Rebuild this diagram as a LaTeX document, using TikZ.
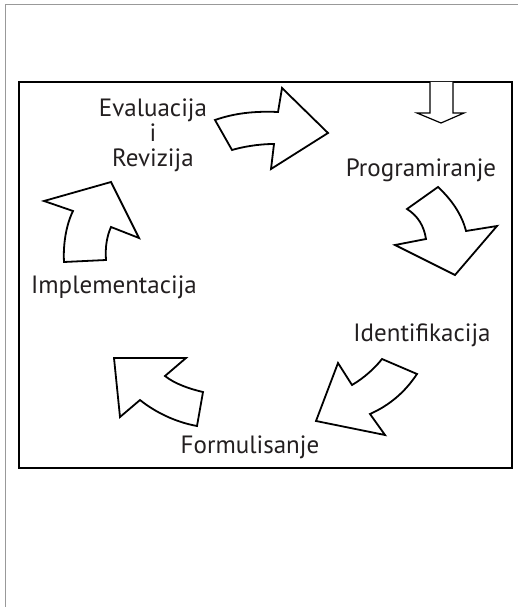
\documentclass[tikz,border=0pt]{standalone}
\usepackage{fontspec}
\setmainfont{PT Sans}
\definecolor{ink}{HTML}{231F20}
\begin{document}
\begin{tikzpicture}[x=1pt,y=-1pt,
  arrowshape/.style={draw=black,line width=1.8pt,line join=miter,fill=white},
  stage/.style={font=\fontsize{25}{30}\selectfont,text=ink,anchor=base,inner sep=0pt}]
\useasboundingbox (0,0) rectangle (518,607);
% outer page frame
\draw[gray!80,line width=0.8pt] (5,620) -- (5,4) -- (530,4);
% inner frame
\draw[line width=1.3pt] (19,82) rectangle (512,468);

% stage labels
\node[stage] (eval) at (153,116.5) {Evaluacija};
\node[stage] (evali) at (153,141) {i};
\node[stage] (revi) at (153,166.5) {Revizija};
\node[stage] (prog) at (421,176) {Programiranje};
\node[stage] (impl) at (114,293) {Implementacija};
\node[stage] (iden) at (422,341) {Identifikacija};
\node[stage] (form) at (250,453) {Formulisanje};

% entry arrow
\draw[line width=1.2pt,fill=white] (430,82) -- (430,113) -- (417,113) -- (441,123)
  -- (464,113) -- (453,113) -- (453,82);

% Evaluacija -> Programiranje
\draw[arrowshape] (215,120) .. controls (235,113) and (255,111) .. (278,112)
  -- (282,88) -- (328,133) -- (271,169) -- (274,144)
  .. controls (258,144) and (242,147) .. (232,150) -- cycle;

% Programiranje -> Identifikacija
\draw[arrowshape] (407,209) -- (438,187)
  .. controls (452,200) and (462,215) .. (466,231)
  -- (497,226) -- (455,275) -- (395,245) -- (426,239)
  .. controls (424,226) and (418,216) .. cycle;

% Identifikacija -> Formulisanje
\draw[arrowshape] (382,359) -- (417,374)
  .. controls (405,392) and (390,405) .. (370,414)
  -- (385,435) -- (316,421) -- (338,363) -- (352,385)
  .. controls (364,378) and (375,368) .. cycle;

% Formulisanje -> Implementacija
\draw[arrowshape] (203,392) -- (197,426)
  .. controls (175,422) and (155,412) .. (140,400)
  -- (120,417) -- (114,358) -- (186,358) -- (165,376)
  .. controls (175,384) and (190,389) .. cycle;

% Implementacija -> Evaluacija
\draw[arrowshape] (64,262) -- (106,260)
  .. controls (105,247) and (107,236) .. (111,227)
  -- (139,238) -- (111,182) -- (44,201) -- (73,211)
  .. controls (66,225) and (63,245) .. cycle;
\end{tikzpicture}
\end{document}
